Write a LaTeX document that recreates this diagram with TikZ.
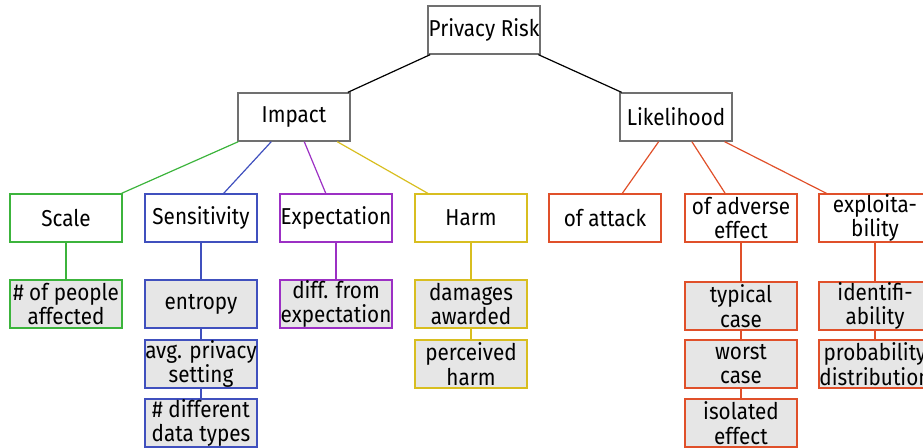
\documentclass[tikz,border=0pt]{standalone}
\usepackage{fontspec}
\setmainfont{Fira Sans}[FakeStretch=0.9]
\definecolor{cgreen}{HTML}{3CB43C}
\definecolor{cblue}{HTML}{4050BE}
\definecolor{cpurple}{HTML}{9C30C4}
\definecolor{cyellow}{HTML}{D8BE20}
\definecolor{corange}{HTML}{E0502A}
\definecolor{cgray}{HTML}{707070}
\definecolor{cfill}{HTML}{E6E6E6}
\begin{document}
\begin{tikzpicture}[x=1pt,y=-1pt,
  box/.style={draw=#1,line width=1.3pt,minimum width=112pt,minimum height=48pt,inner sep=0pt,align=center,
    font=\fontsize{23}{24.5}\selectfont},
  box/.default=cgray,
  leaf/.style={box=#1,fill=cfill},
  link/.style={line width=1.2pt,draw=#1}]
\useasboundingbox (0,0) rectangle (923,447);
\node[box] (risk) at (484,30) {Privacy Risk};
\node[box] (impact) at (294,117) {Impact};
\node[box] (like) at (676,117) {Likelihood};
\node[box=cgreen] (scale) at (66,218) {Scale};
\node[box=cblue] (sens) at (201,218) {Sensitivity};
\node[box=cpurple] (expe) at (336,218) {Expectation};
\node[box=cyellow] (harm) at (471,218) {Harm};
\node[box=corange] (attack) at (605,218) {of attack};
\node[box=corange] (adverse) at (741,218) {of adverse\\effect};
\node[box=corange] (exploit) at (875,218) {exploita-\\bility};
\node[leaf=cgreen] (people) at (66,304) {\# of people\\affected};
\node[leaf=cblue] (entropy) at (201,304) {entropy};
\node[leaf=cblue] (avg) at (201,364) {avg. privacy\\setting};
\node[leaf=cblue] (types) at (201,423) {\# different\\data types};
\node[leaf=cpurple] (diff) at (336,304) {diff. from\\expectation};
\node[leaf=cyellow] (damages) at (471,304) {damages\\awarded};
\node[leaf=cyellow] (perceived) at (471,364) {perceived\\harm};
\node[leaf=corange] (typical) at (741,306) {typical\\case};
\node[leaf=corange] (worst) at (741,364) {worst\\case};
\node[leaf=corange] (isolated) at (741,423) {isolated\\effect};
\node[leaf=corange] (ident) at (875,306) {identifi-\\ability};
\node[leaf=corange] (prob) at (875,364) {probability\\distribution};
\draw[link=black] (risk) -- (impact);
\draw[link=black] (risk) -- (like);
\draw[link=cgreen] (impact) -- (scale);
\draw[link=cblue] (impact) -- (sens);
\draw[link=cpurple] (impact) -- (expe);
\draw[link=cyellow] (impact) -- (harm);
\draw[link=corange] (like) -- (attack);
\draw[link=corange] (like) -- (adverse);
\draw[link=corange] (like) -- (exploit);
\draw[link=cgreen] (scale) -- (people);
\draw[link=cblue] (sens) -- (entropy);
\draw[link=cblue] (entropy) -- (avg);
\draw[link=cblue] (avg) -- (types);
\draw[link=cpurple] (expe) -- (diff);
\draw[link=cyellow] (harm) -- (damages);
\draw[link=cyellow] (damages) -- (perceived);
\draw[link=corange] (adverse) -- (typical);
\draw[link=corange] (typical) -- (worst);
\draw[link=corange] (worst) -- (isolated);
\draw[link=corange] (exploit) -- (ident);
\draw[link=corange] (ident) -- (prob);
\end{tikzpicture}
\end{document}
